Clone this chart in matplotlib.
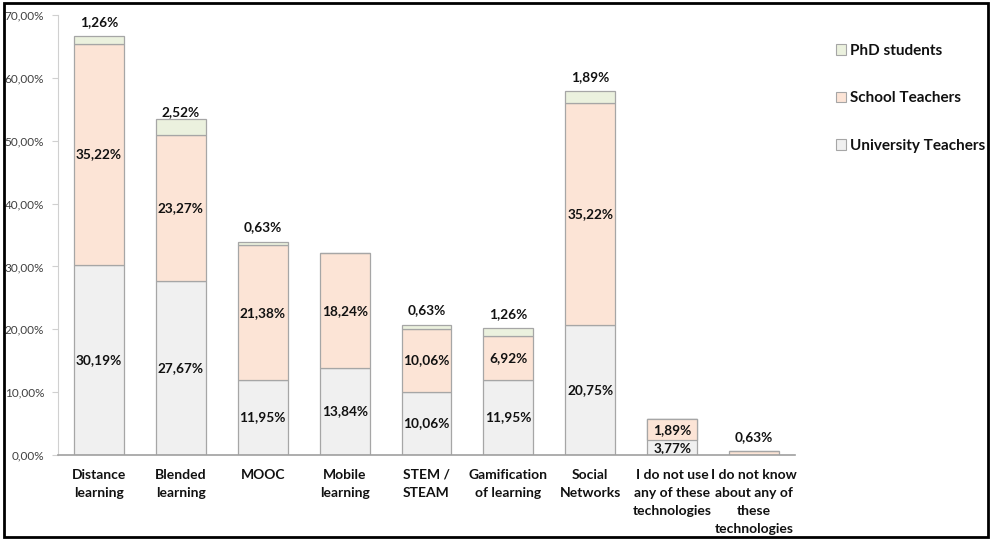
import matplotlib
matplotlib.use("Agg")
import matplotlib.pyplot as plt
from matplotlib.patches import Patch, Rectangle
import numpy as np

categories = ["Distance\nlearning", "Blended\nlearning", "MOOC", "Mobile\nlearning",
              "STEM /\nSTEAM", "Gamification\nof learning", "Social\nNetworks",
              "I do not use\nany of these\ntechnologies", "I do not know\nabout any of\nthese\ntechnologies"]
university = [30.19, 27.67, 11.95, 13.84, 10.06, 11.95, 20.75, 3.77, 0.0]
school = [35.22, 23.27, 21.38, 18.24, 10.06, 6.92, 35.22, 1.89, 0.63]
phd = [1.26, 2.52, 0.63, 0.0, 0.63, 1.26, 1.89, 0.0, 0.0]
yticks = [0, 10, 20, 30, 40, 50, 60, 70]

c_uni = "#F0F0F0"
c_sch = "#FCE4D6"
c_phd = "#EBF1DE"
edge = "#A6A6A6"

plt.rcParams['font.family'] = ['Lato', 'DejaVu Sans']

fig = plt.figure(figsize=(9.94, 5.40), dpi=100)
ax = fig.add_axes([58/994, 85/540, (795-58)/994, 440/540])

x = np.arange(len(categories))
w = 0.61
u = np.array(university); s = np.array(school); p = np.array(phd)
ax.bar(x, u, w, color=c_uni, edgecolor=edge, linewidth=0.9, zorder=2)
ax.bar(x, s, w, bottom=u, color=c_sch, edgecolor=edge, linewidth=0.9, zorder=2)
ax.bar(x, p, w, bottom=u + s, color=c_phd, edgecolor=edge, linewidth=0.9, zorder=2)

def fmt(v):
    return ("%.2f%%" % v).replace(".", ",")

lab_kw = dict(ha="center", va="center", fontsize=9.8, fontweight="bold", color="#111111", zorder=5)
px = 70 / 440.0  # data units per pixel
for i in range(len(categories)):
    ui, si, pi = u[i], s[i], p[i]
    if i == 7:
        # small bar: Excel-style filled label boxes
        top = ui + si
        box_h = 21 * px
        ax.add_patch(Rectangle((x[i] - w / 2, top - box_h), w, box_h, facecolor=c_sch,
                               edgecolor=edge, linewidth=0.9, zorder=4))
        ax.text(x[i], top - box_h / 2, fmt(si), **lab_kw)
        ax.text(x[i], 7 * px, fmt(ui), clip_on=True, **lab_kw)
        continue
    if ui > 0:
        ax.text(x[i], ui / 2, fmt(ui), **lab_kw)
    if si > 0:
        if si < 2:
            ax.text(x[i], ui + si + 14 * px, fmt(si), **lab_kw)
        else:
            ax.text(x[i], ui + si / 2, fmt(si), **lab_kw)
    if pi > 0:
        off = 7 if i == 1 else 14
        ax.text(x[i], ui + si + pi + off * px, fmt(pi), **lab_kw)

ax.set_xlim(-0.5, len(categories) - 0.5)
ax.set_ylim(0, 70)
ax.set_yticks(yticks)
ax.set_yticklabels([fmt(v) for v in yticks], fontsize=8.5, color="#404040")
ax.set_xticks(x)
ax.set_xticklabels(categories, fontsize=10, fontweight="bold", color="#111111", linespacing=1.6, va="top")
ax.tick_params(axis="x", length=0, pad=10)
ax.tick_params(axis="y", length=4, color="#D0D0D0", pad=6)
for sp in ["top", "right"]:
    ax.spines[sp].set_visible(False)
ax.spines["left"].set_color("#D0D0D0")
ax.spines["bottom"].set_color("#A0A0A0")
ax.spines["bottom"].set_linewidth(1.2)
ax.spines["bottom"].set_zorder(6)

handles = [Patch(facecolor=c_phd, edgecolor=edge, linewidth=0.8),
           Patch(facecolor=c_sch, edgecolor=edge, linewidth=0.8),
           Patch(facecolor=c_uni, edgecolor=edge, linewidth=0.8)]
leg = fig.legend(handles, ["PhD students", "School Teachers", "University Teachers"],
                 loc="upper left", bbox_to_anchor=(822/994, 1 - 30/540), frameon=False,
                 prop=dict(family="Lato", weight="bold", size=11),
                 handlelength=0.7, handleheight=0.7, handletextpad=0.25, labelspacing=2.2)
for t in leg.get_texts():
    t.set_color("#111111")

fig.patches.append(Rectangle((4/994, 3/540), 984/994, 534/540, transform=fig.transFigure,
                             fill=False, edgecolor="black", linewidth=2, zorder=10))

fig.savefig("out.png", dpi=100)
